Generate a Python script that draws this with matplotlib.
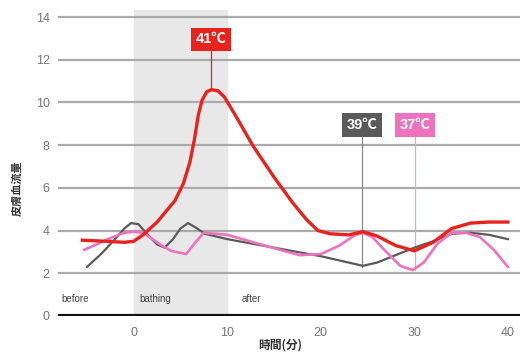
import matplotlib
matplotlib.use("Agg")
import matplotlib.pyplot as plt

plt.rcParams['font.family'] = ['Liberation Sans', 'Noto Sans CJK JP', 'DejaVu Sans']

# 41℃
red_x = [-5.5, -3, -1, 0, 1, 2.5, 4.4, 5.3, 6.0, 6.5, 6.9, 7.3, 7.8, 8.3, 9.0, 9.7, 11, 12.7, 15, 17, 18.5, 19.7, 21, 23, 24.5, 26, 28, 30, 32, 34, 36, 38, 40]
red_y = [3.55, 3.5, 3.45, 3.5, 3.8, 4.4, 5.4, 6.2, 7.2, 8.3, 9.4, 10.1, 10.5, 10.6, 10.55, 10.25, 9.3, 8.0, 6.5, 5.3, 4.5, 4.0, 3.85, 3.8, 3.95, 3.75, 3.3, 3.05, 3.45, 4.1, 4.35, 4.4, 4.4]
# 39℃
gray_x = [-5, -3.5, -2, -1, -0.3, 0.5, 1.5, 2.5, 3.3, 4.2, 5.0, 5.8, 6.6, 7.6, 10, 15, 20, 23, 24.5, 26, 28, 30, 32, 34, 36, 38, 40]
gray_y = [2.3, 2.9, 3.6, 4.1, 4.35, 4.3, 3.8, 3.35, 3.2, 3.6, 4.1, 4.35, 4.15, 3.85, 3.6, 3.2, 2.8, 2.5, 2.35, 2.5, 2.85, 3.2, 3.5, 3.85, 3.9, 3.8, 3.6]
# 37℃
pink_x = [-5.3, -4, -2.5, -1, 0, 1, 2, 3, 4, 5.6, 6.5, 7.5, 10, 14, 17.7, 20, 22, 23.5, 24.5, 25.5, 27, 28.5, 29.8, 31, 32.5, 34, 35.5, 37, 38.5, 40]
pink_y = [3.1, 3.35, 3.65, 3.9, 3.95, 3.9, 3.6, 3.3, 3.05, 2.9, 3.4, 3.9, 3.8, 3.3, 2.85, 2.9, 3.3, 3.75, 3.9, 3.7, 3.0, 2.35, 2.15, 2.5, 3.4, 3.9, 3.9, 3.7, 3.1, 2.3]

y_ticks = [0, 2, 4, 6, 8, 10, 12, 14]
x_ticks = [0, 10, 20, 30, 40]
phases = ["before", "bathing", "after"]
phase_x = [-7.7, 0.6, 11.5]
tags = ["41℃", "39℃", "37℃"]
tag_x = [8.3, 24.4, 30.05]
tag_y = [12.95, 8.95, 8.95]
tag_bottom = [10.6, 2.3, 2.15]

c_red = "#e8231d"
c_gray = "#5a5a5a"
c_pink = "#ee72bd"

fig = plt.figure(figsize=(5.2, 3.56), dpi=100)
ax = fig.add_axes([58 / 520, 40 / 356, 462 / 520, 306 / 356])
ax.set_xlim(-8.1, 41.3)
ax.set_ylim(0, 14.33)

ax.axvspan(0, 10, color="#e8e8e8", zorder=0)
for t in y_ticks[1:]:
    ax.axhline(t, color="#aaaaaa", lw=1.6, zorder=1)
ax.axhline(0, color="#111111", lw=3, zorder=5)

# label leader lines
tag_cols = [c_red, c_gray, c_pink]
line_cols = [c_red, "#888888", "#f39ccd"]
for x, y0, y1, c in zip(tag_x, tag_bottom, tag_y, line_cols):
    ax.plot([x, x], [y0, y1], color=c, lw=0.9, zorder=2)

ax.plot(gray_x, gray_y, color=c_gray, lw=1.6, solid_joinstyle="round", zorder=3)
ax.plot(pink_x, pink_y, color=c_pink, lw=1.9, solid_joinstyle="round", zorder=3)
ax.plot(red_x, red_y, color=c_red, lw=2.4, solid_joinstyle="round", zorder=4)

for s, x, y, c in zip(tags, tag_x, tag_y, tag_cols):
    ax.text(x, y, s, color="white", fontsize=10.5, ha="center", va="center", zorder=6,
            weight="bold", family=['Liberation Sans', 'Noto Sans CJK JP'],
            bbox=dict(boxstyle="square,pad=0.32", fc=c, ec="none"))

for s, x in zip(phases, phase_x):
    ax.text(x, 0.55, s, color="#444444", fontsize=7, ha="left", va="bottom", zorder=6)

ax.set_yticks(y_ticks)
ax.set_xticks(x_ticks)
ax.tick_params(length=0, labelsize=9, labelcolor="#777777")
ax.tick_params(axis="y", pad=6)
ax.tick_params(axis="x", pad=8)
for sp in ax.spines.values():
    sp.set_visible(False)

fig.text(280 / 520, 4 / 356, "時間(分)", fontsize=8.5, ha="center", va="bottom",
         color="#333333", family=['Noto Sans CJK JP'], weight="bold")
fig.text(17 / 520, 168 / 356, "皮膚血流量", fontsize=8, ha="center", va="center",
         color="#333333", rotation=90, family=['Noto Sans CJK JP'], weight="bold")

fig.savefig("out.png", dpi=100)
